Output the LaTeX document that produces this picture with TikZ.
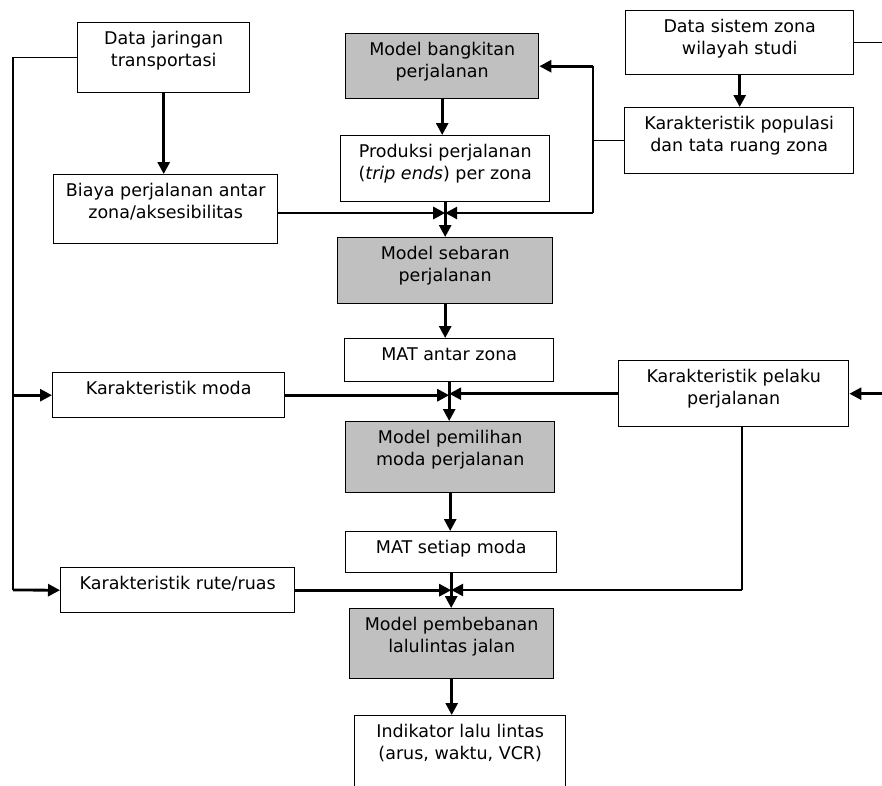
\documentclass[tikz,border=0pt]{standalone}
\usepackage{fontspec}
\setmainfont{DejaVu Sans}
\usetikzlibrary{positioning,arrows.meta,calc}

\definecolor{modelgray}{HTML}{C0C0C0}

\tikzset{
  box/.style={draw, line width=1.4pt, anchor=north west, align=center,
    inner xsep=0pt, inner ysep=0pt, text height=22pt,
    font=\fontsize{17.5}{22}\selectfont},
  twoline/.style={text height=44pt},
  model/.style={box, fill=modelgray},
  flow/.style={line width=2.8pt, -{Triangle[length=12pt,width=12pt]}},
  link/.style={line width=1.4pt},
}

\begin{document}
\begin{tikzpicture}[x=1pt,y=-1pt]
  \clip (0,0) rectangle (882,785);

  % input data
  \node[box, twoline, minimum width=172pt, text depth=26pt] (jar) at (77,22) {Data jaringan\\transportasi};
  \node[box, twoline, minimum width=228pt, text depth=20pt] (sistem) at (625,10) {Data sistem zona\\wilayah studi};
  \node[box, twoline, minimum width=229pt, text depth=22pt] (populasi) at (624,107) {Karakteristik populasi\\dan tata ruang zona};
  \node[box, twoline, minimum width=224pt, text depth=25pt] (biaya) at (53,174) {Biaya perjalanan antar\\zona/aksesibilitas};

  % four-stage chain
  \node[model, twoline, minimum width=193pt, text depth=21pt] (bangkitan) at (345,33) {Model bangkitan\\perjalanan};
  \node[box, twoline, minimum width=209pt, text depth=22pt] (produksi) at (340,135) {Produksi perjalanan\\(\textit{trip ends}) per zona};
  \node[model, twoline, minimum width=215pt, text depth=22pt] (sebaran) at (337,237) {Model sebaran\\perjalanan};
  \node[box, minimum width=209pt, text depth=21pt] (matantar) at (344,338) {MAT antar zona};
  \node[model, twoline, minimum width=209pt, text depth=27pt] (pemilihan) at (345,421) {Model pemilihan\\moda perjalanan};
  \node[box, minimum width=211pt, text depth=19pt] (matsetiap) at (345,531) {MAT setiap moda};
  \node[model, twoline, minimum width=204pt, text depth=26pt] (pembebanan) at (349,608) {Model pembebanan\\lalulintas jalan};
  \node[box, twoline, minimum width=211pt, text depth=46pt] (indikator) at (354,715) {Indikator lalu lintas\\(arus, waktu, VCR)};

  % side inputs
  \node[box, minimum width=232pt, text depth=23pt] (moda) at (52,372) {Karakteristik moda};
  \node[box, twoline, minimum width=230pt, text depth=22pt] (pelaku) at (618,360) {Karakteristik pelaku\\perjalanan};
  \node[box, minimum width=234pt, text depth=23pt] (rute) at (60,567) {Karakteristik rute/ruas};

  \coordinate (lft) at (13,590);
  \coordinate (rgt) at (882,0);
  \coordinate (fb) at (593,213);
  \coordinate (pb) at (742,590);

  % left frame
  \draw[link] (jar.west) -| (lft);
  \draw[flow] (lft) -- (rute.west);
  \draw[flow] (lft |- moda.west) -- (moda.west);
  \draw[flow] (jar.south) -- (jar.south |- biaya.north);

  % right frame
  \draw[link] (sistem.east) -- (sistem.east -| rgt);
  \draw[flow] (sistem.south) -- (sistem.south |- populasi.north);
  \draw[flow] (pelaku.east -| rgt) -- (pelaku.east);
  \draw[link] (populasi.west) -- (populasi.west -| fb);
  \draw[link] (fb) -- (fb |- bangkitan.east);
  \draw[flow] (fb |- bangkitan.east) -- (bangkitan.east);
  \draw[flow] (fb) -- (produksi.south |- fb);
  \draw[flow] (fb -| biaya.east) -- (produksi.south |- fb);

  % main chain
  \draw[flow] (bangkitan.south) -- (bangkitan.south |- produksi.north);
  \draw[flow] (produksi.south) -- (produksi.south |- sebaran.north);
  \draw[flow] (sebaran.south) -- (sebaran.south |- matantar.north);
  \draw[flow] (moda.east) -- (matantar.south |- moda.east);
  \draw[flow] (pelaku.west) -- (matantar.south |- pelaku.west);
  \draw[flow] (matantar.south) -- (matantar.south |- pemilihan.north);
  \draw[flow] (pemilihan.south) -- (pemilihan.south |- matsetiap.north);
  \draw[flow] (rute.east) -- (matsetiap.south |- rute.east);
  \draw[link] (pelaku.south -| pb) -- (pb);
  \draw[flow] (pb) -- (matsetiap.south |- pb);
  \draw[flow] (matsetiap.south) -- (matsetiap.south |- pembebanan.north);
  \draw[flow] (pembebanan.south) -- (pembebanan.south |- indikator.north);
\end{tikzpicture}
\end{document}
